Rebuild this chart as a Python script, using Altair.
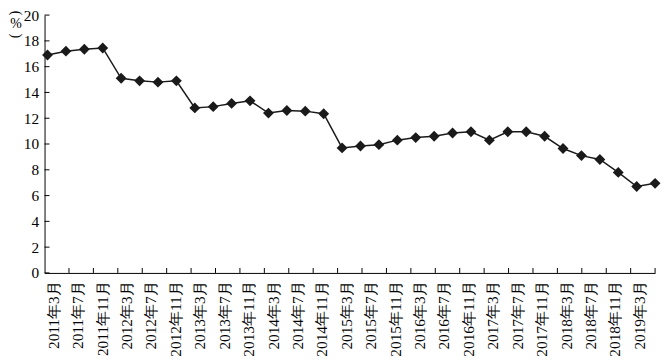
import altair as alt
import pandas as pd

# Series values (%), one per point
values = [16.9, 17.2, 17.35, 17.45, 15.1, 14.9, 14.8, 14.9,
          12.8, 12.9, 13.15, 13.35, 12.4, 12.6, 12.55, 12.35,
          9.7, 9.85, 9.95, 10.3, 10.5, 10.6, 10.85, 10.95,
          10.3, 10.95, 10.95, 10.6, 9.65, 9.1, 8.8, 7.8,
          6.7, 6.95]

# Category labels along the x axis
labels = ["2011年3月", "2011年7月", "2011年11月", "2012年3月", "2012年7月",
          "2012年11月", "2013年3月", "2013年7月", "2013年11月", "2014年3月",
          "2014年7月", "2014年11月", "2015年3月", "2015年7月", "2015年11月",
          "2016年3月", "2016年7月", "2016年11月", "2017年3月", "2017年7月",
          "2017年11月", "2018年3月", "2018年7月", "2018年11月", "2019年3月"]

y_ticks = [0, 2, 4, 6, 8, 10, 12, 14, 16, 18, 20]
unit_open, unit_sym, unit_close = "(", "%", ")"

W, H = 618, 261
FONT = "Liberation Serif, Times New Roman, serif"
INK = "#1a1a1a"

pts = pd.DataFrame({"i": list(range(len(values))), "v": values})
lab = pd.DataFrame({"label": labels})
yt = pd.DataFrame({"t": y_ticks})

yscale = alt.Scale(domain=[0, 20], nice=False, zero=True)
xscale = alt.Scale(domain=[-0.16, 33], nice=False, zero=False)

yaxis = alt.Axis(values=y_ticks, ticks=False, grid=False, domainColor="#000",
                 domainWidth=1, labelFont=FONT, labelFontSize=15.5, labelColor="#000",
                 labelPadding=6, title=None)

ytick = alt.Chart(yt).mark_rule(color="#000", strokeWidth=1).encode(
    y=alt.Y("t:Q", scale=yscale, axis=yaxis),
    x=alt.value(0), x2=alt.value(5)
)

line = alt.Chart(pts).mark_line(color=INK, strokeWidth=1.5).encode(
    x=alt.X("i:Q", scale=xscale, axis=None),
    y=alt.Y("v:Q", scale=yscale, axis=yaxis)
)

points = alt.Chart(pts).mark_point(shape="diamond", filled=True, size=121,
                                   color=INK, opacity=1).encode(
    x=alt.X("i:Q", scale=xscale, axis=None),
    y=alt.Y("v:Q", scale=yscale, axis=yaxis)
)

xtick = alt.Chart(lab).mark_rule(color="#000", strokeWidth=1).encode(
    x=alt.X("label:N", sort=labels, bandPosition=1,
            scale=alt.Scale(type="band", paddingInner=0, paddingOuter=0),
            axis=alt.Axis(ticks=False, grid=False, domainColor="#000", domainWidth=1,
                          labelAngle=-90, labelFont=FONT, labelFontSize=15.5, labelColor="#000",
                          labelPadding=8, labelOffset=-3, title=None, labelOverlap=False,
                          labelBound=False)),
    y=alt.value(H - 5), y2=alt.value(H)
)

def unit_text(txt, angle, y, size):
    return alt.Chart(pd.DataFrame({"txt": [txt]})).mark_text(
        font=FONT, fontSize=size, angle=angle, align="center", baseline="middle",
        color="#000"
    ).encode(text="txt:N", x=alt.value(-29), y=alt.value(y))

u1 = unit_text(unit_open, 90, -2, 14)
u2 = unit_text(unit_sym, 0, 9, 14)
u3 = unit_text(unit_close, 90, 21, 14)

chart = alt.layer(ytick, line, points, xtick, u1, u2, u3).resolve_scale(x="independent").properties(
    width=W, height=H,
    padding={"left": 37, "top": 5, "right": 7, "bottom": 90},
    autosize="none",
    background="white"
).configure_view(stroke=None)

chart.save("out.html", embed_options={"renderer": "svg", "actions": False})
